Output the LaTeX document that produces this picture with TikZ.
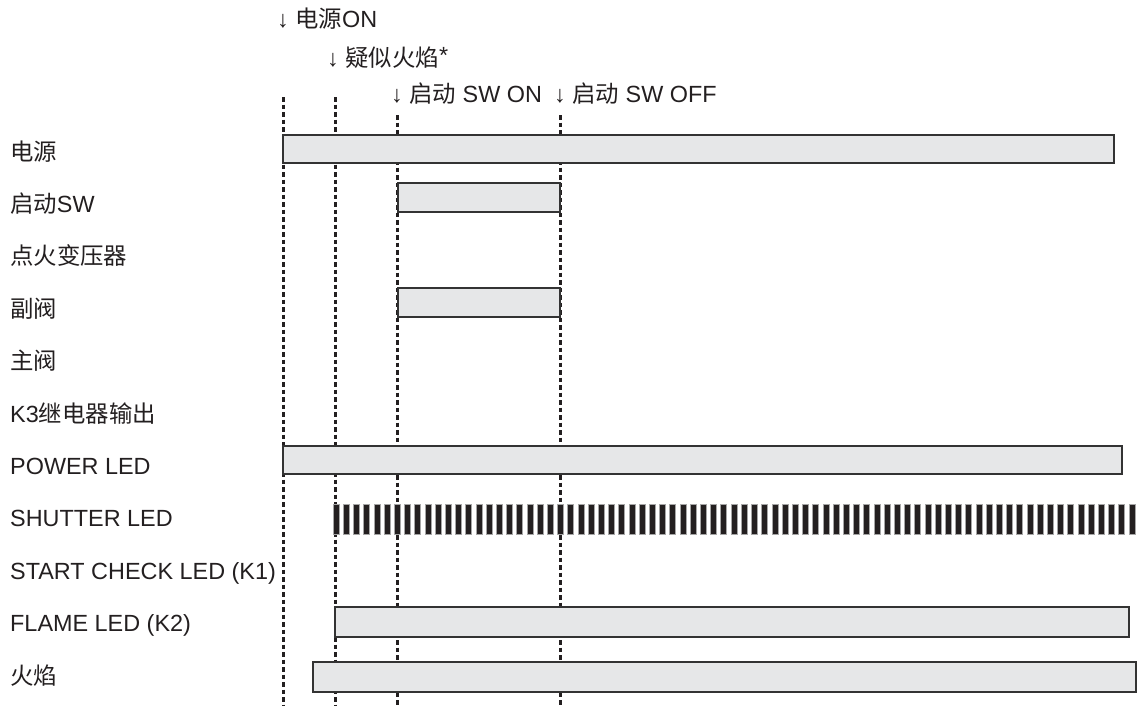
\documentclass[tikz,border=0pt]{standalone}
\usepackage{fontspec}
\setmainfont{Liberation Sans}
\newfontfamily\cjk{Noto Sans CJK SC}
\usepackage{tikz}
\usetikzlibrary{arrows}

\definecolor{barfill}{HTML}{E6E7E8}
\definecolor{barline}{HTML}{333333}
\definecolor{ink}{HTML}{231F20}

\begin{document}
\begin{tikzpicture}[x=1pt, y=-1pt, font=\fontsize{23.4}{27}\selectfont]
    \tikzstyle{rowname} = [anchor=base west, inner sep=0pt, text=ink]
    \tikzstyle{event} = [anchor=base west, inner sep=0pt, text=ink]
    \tikzstyle{guide} = [ink, line width=3pt, dash pattern=on 4.5pt off 3pt]
    \tikzstyle{timebar} = [draw=barline, fill=barfill, line width=1.7pt]
    \tikzstyle{pulse} = [draw=gray!70, fill=ink, line width=0.6pt]

    \useasboundingbox (0,0) rectangle (1138,705);

	% event markers
	\node[event] (on) at (277,27) {↓ {\cjk 电源}ON};
	\node[event] (fake) at (327,66) {↓ {\cjk 疑似火焰}\raisebox{3pt}{*}};
	\node[event] (swon) at (391,102) {↓ {\cjk 启动} SW ON};
	\node[event] (swoff) at (554,102) {↓ {\cjk 启动} SW OFF};

	% signal names
	\node[rowname] (pwr) at (10,160) {\cjk 电源};
	\node[rowname] (sw) at (10,212.4) {{\cjk 启动}SW};
	\node[rowname] (ign) at (10,264.8) {\cjk 点火变压器};
	\node[rowname] (pilot) at (10,317.2) {\cjk 副阀};
	\node[rowname] (main) at (10,369.6) {\cjk 主阀};
	\node[rowname] (k3) at (10,422) {K3{\cjk 继电器输出}};
	\node[rowname] (pled) at (10,474.4) {POWER LED};
	\node[rowname] (shled) at (10,526.8) {SHUTTER LED};
	\node[rowname] (scled) at (10,579.2) {START CHECK LED (K1)};
	\node[rowname] (fled) at (10,631.6) {FLAME LED (K2)};
	\node[rowname] (flame) at (10,684) {\cjk 火焰};

	% guide lines
	\coordinate (g0t) at (283,97);   \coordinate (g0b) at (283,705);
	\coordinate (g1t) at (335,97);   \coordinate (g1b) at (335,705);
	\coordinate (g2t) at (397,115);  \coordinate (g2b) at (397,705);
	\coordinate (g3t) at (560,115);  \coordinate (g3b) at (560,705);
	\draw[guide] (g0t) -- (g0b);
	\draw[guide] (g1t) -- (g1b);
	\draw[guide] (g2t) -- (g2b);
	\draw[guide] (g3t) -- (g3b);

	% timing bars
	\draw[timebar] (283,135) rectangle (1114,163);
	\draw[timebar] (398,183) rectangle (560,212);
	\draw[timebar] (398,288) rectangle (560,317);
	\draw[timebar] (283,446) rectangle (1122,474);
	\foreach \i in {0,...,78}
		\draw[pulse] (333+10.205*\i,504) rectangle ++(6,30);
	\draw[timebar] (335,607) rectangle (1129,637);
	\draw[timebar] (313,662) rectangle (1136,692);
\end{tikzpicture}
\end{document}
